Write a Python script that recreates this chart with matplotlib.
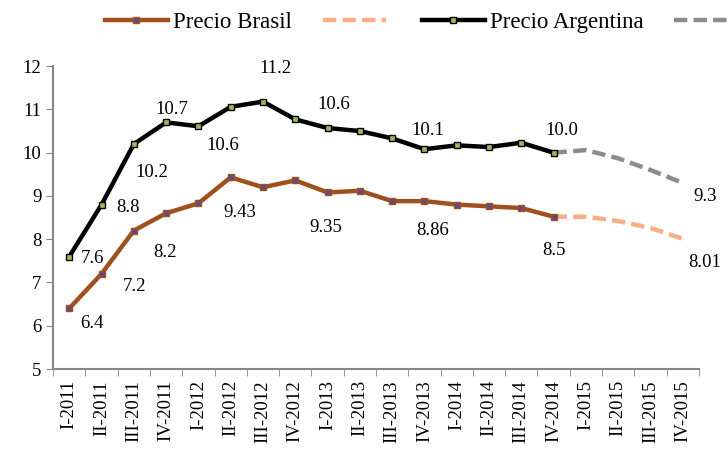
import matplotlib
matplotlib.use("Agg")
import matplotlib.pyplot as plt

plt.rcParams["font.family"] = ["Liberation Serif", "DejaVu Serif"]

quarters = ["I-2011", "II-2011", "III-2011", "IV-2011",
            "I-2012", "II-2012", "III-2012", "IV-2012",
            "I-2013", "II-2013", "III-2013", "IV-2013",
            "I-2014", "II-2014", "III-2014", "IV-2014",
            "I-2015", "II-2015", "III-2015", "IV-2015"]

# observed prices (I-2011 .. IV-2014)
precio_brasil = [6.4, 7.2, 8.2, 8.6, 8.83, 9.43, 9.2, 9.36,
                 9.08, 9.12, 8.88, 8.88, 8.8, 8.76, 8.72, 8.52]
precio_argentina = [7.6, 8.8, 10.2, 10.7, 10.61, 11.06, 11.18, 10.77,
                    10.57, 10.5, 10.33, 10.08, 10.17, 10.13, 10.23, 10.0]

# projections (IV-2014 .. IV-2015)
proy_brasil = [8.52, 8.52, 8.42, 8.26, 8.01]
proy_argentina = [10.0, 10.06, 9.87, 9.6, 9.3]

# (series, index, text, dx, dy) offsets in pixels
etiquetas = [
    ("arg", 0, "7.6", 23, -2),
    ("bra", 0, "6.4", 23, -15),
    ("bra", 1, "7.2", 33, -13),
    ("bra", 2, "8.2", 31, -22),
    ("arg", 1, "8.8", 26, -3),
    ("arg", 2, "10.2", 18, -28),
    ("arg", 3, "10.7", 6, 13),
    ("arg", 4, "10.6", 24, -19),
    ("bra", 5, "9.43", 9, -35),
    ("arg", 6, "11.2", 12, 33),
    ("arg", 8, "10.6", 6, 24),
    ("bra", 8, "9.35", -2, -35),
    ("arg", 11, "10.1", 3, 19),
    ("arg", 15, "10.0", 8, 22),
    ("bra", 11, "8.86", 8, -29),
    ("bra", 15, "8.5", 0, -34),
]
etiquetas_proy = [
    ("arg", 4, "9.3", 22, -14),
    ("bra", 4, "8.01", 22, -24),
]

fig = plt.figure(figsize=(7.28, 4.5), dpi=100)
ax = fig.add_axes([0.073, 0.18, 0.887, 0.673])

x_obs = list(range(len(precio_brasil)))
x_proy = list(range(15, 20))

brown = "#A0501E"
salmon = "#FBAE86"
gris = "#8C8C8C"
ax.plot(x_proy, proy_brasil, color=salmon, lw=3.2, dashes=(3, 1.4), zorder=2)
ax.plot(x_proy, proy_argentina, color=gris, lw=3.2, dashes=(3, 1.4), zorder=2)
lb, = ax.plot(x_obs, precio_brasil, color=brown, lw=3.2, marker="s", markersize=5,
              markerfacecolor="#5E4B86", markeredgecolor=brown, markeredgewidth=1, zorder=3)
la, = ax.plot(x_obs, precio_argentina, color="black", lw=3.2, marker="s", markersize=5,
              markerfacecolor="#9BBB59", markeredgecolor="black", markeredgewidth=1, zorder=3)

series = {"bra": precio_brasil, "arg": precio_argentina}
proys = {"bra": proy_brasil, "arg": proy_argentina}
for s, i, t, dx, dy in etiquetas:
    ax.annotate(t, (x_obs[i], series[s][i]), xytext=(dx, dy), textcoords="offset pixels",
                ha="center", va="center", fontsize=13.5)
for s, i, t, dx, dy in etiquetas_proy:
    ax.annotate(t, (x_proy[i], proys[s][i]), xytext=(dx, dy), textcoords="offset pixels",
                ha="center", va="center", fontsize=13.5, annotation_clip=False)

ax.set_xlim(-0.5, 19.5)
ax.set_ylim(5, 12)
ax.set_yticks(range(5, 13))
ax.set_xticks(range(len(quarters)))
ax.set_xticklabels(quarters, rotation=90)
ax.set_xticks([k - 0.5 for k in range(21)], minor=True)
ax.tick_params(axis="x", which="major", length=0, labelsize=13.5, pad=8)
ax.tick_params(axis="x", which="minor", length=5, color="#868686")
ax.tick_params(axis="y", length=5, color="#868686", labelsize=13.5)
for sp in ["top", "right"]:
    ax.spines[sp].set_visible(False)
for sp in ["left", "bottom"]:
    ax.spines[sp].set_color("#868686")
    ax.spines[sp].set_linewidth(1.5)

hb, = ax.plot([], [], color=salmon, lw=3.2, dashes=(3, 1.4))
ha_, = ax.plot([], [], color=gris, lw=3.2, dashes=(3, 1.4))
fig.legend([lb, hb, la, ha_], ["Precio Brasil", "", "Precio Argentina", ""],
           loc="center left", bbox_to_anchor=(0.144, 0.951), ncol=4, frameon=False,
           fontsize=16.5, handlelength=2.75, handletextpad=0.22, columnspacing=1.35,
           borderpad=0, borderaxespad=0)

fig.savefig("out.png", dpi=100)
